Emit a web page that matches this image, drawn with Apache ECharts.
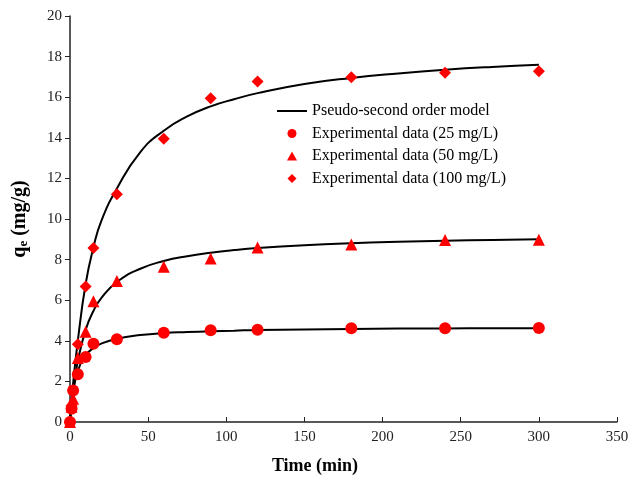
<!DOCTYPE html>
<html>
<head>
<meta charset="utf-8">
<script src="https://cdn.jsdelivr.net/npm/echarts@6/dist/echarts.min.js"></script>
<style>
    html, body { margin: 0; padding: 0; background: #fff; }
    #main { width: 641px; height: 480px; }
</style>
</head>
<body>
<div id="main"></div>
<script>
// experimental sampling times (min)
var times = [0, 1, 2, 5, 10, 15, 30, 60, 90, 120, 180, 240, 300];
var q25 = [0, 0.65, 1.55, 2.35, 3.2, 3.85, 4.08, 4.4, 4.52, 4.55, 4.62, 4.62, 4.63];
var q50 = [0, 0.75, 1.15, 3.15, 4.45, 5.95, 6.95, 7.65, 8.05, 8.6, 8.75, 8.97, 8.98];
var q100 = [0, 0.8, 1.55, 3.83, 6.68, 8.57, 11.22, 13.95, 15.95, 16.77, 16.98, 17.2, 17.28];

// model curves
var modelTimes = [0, 1, 2, 5, 10, 15, 20, 30, 45, 60, 75, 90, 105, 120, 150, 180, 210, 240, 270, 300];
var model25 = [0, 0.88, 1.49, 2.5, 3.28, 3.64, 3.86, 4.1, 4.28, 4.38, 4.43, 4.47, 4.5, 4.53, 4.56, 4.58, 4.6, 4.61, 4.62, 4.62];
var model50 = [0, 0.81, 1.49, 3.0, 4.54, 5.47, 6.1, 6.9, 7.55, 7.93, 8.17, 8.34, 8.47, 8.57, 8.71, 8.81, 8.88, 8.93, 8.97, 9.0];
var model100 = [0, 1.0, 1.9, 4.0, 6.8, 8.6, 9.9, 11.5, 13.3, 14.35, 15.05, 15.55, 15.9, 16.2, 16.65, 16.95, 17.17, 17.35, 17.49, 17.6];

var modelName = 'Pseudo-second order model';
var names = ['Experimental data (25 mg/L)', 'Experimental data (50 mg/L)', 'Experimental data (100 mg/L)'];

function pairs(xs, ys) {
    return xs.map(function (x, i) { return [x, ys[i]]; });
}

function modelSeries(ys) {
    return {
        name: modelName,
        type: 'line',
        data: pairs(modelTimes, ys),
        smooth: 0.5,
        symbol: 'none',
        lineStyle: { color: '#000', width: 2 },
        itemStyle: { color: '#000' },
        z: 2
    };
}

function dataSeries(name, ys, symbol, size) {
    return {
        name: name,
        type: 'scatter',
        data: pairs(times, ys),
        symbol: symbol,
        symbolSize: size,
        itemStyle: { color: '#ff0000', opacity: 1 },
        z: 3
    };
}

var chart = echarts.init(document.getElementById('main'));
var font = '"Liberation Serif", "Times New Roman", serif';
chart.setOption({
    animation: false,
    backgroundColor: '#fff',
    textStyle: { fontFamily: font },
    grid: { left: 70, right: 24, top: 16, bottom: 57 },
    legend: {
        orient: 'vertical',
        left: 277,
        top: 103,
        padding: 0,
        itemWidth: 30,
        itemHeight: 9,
        itemGap: 6.5,
        symbolKeepAspect: true,
        textStyle: { fontFamily: font, fontSize: 16, color: '#000' },
        data: [
            { name: modelName, icon: 'path://M0,0L30,0L30,2L0,2Z', itemStyle: { color: '#000' } },
            { name: names[0], icon: 'circle' },
            { name: names[1], icon: 'path://M5,0L10,9L0,9Z' },
            { name: names[2], icon: 'path://M5,0L10,5L5,10L0,5Z' }
        ]
    },
    xAxis: {
        type: 'value',
        min: 0,
        max: 350,
        interval: 50,
        name: 'Time (min)',
        nameLocation: 'middle',
        nameGap: 35,
        nameTextStyle: { fontFamily: font, fontSize: 18, fontWeight: 'bold', color: '#000', padding: [0, 57, 0, 0] },
        axisLine: { lineStyle: { color: '#222', width: 1.5 } },
        axisTick: { inside: true, length: 5, lineStyle: { color: '#222' } },
        axisLabel: { fontFamily: font, fontSize: 15, color: '#222', margin: 8 },
        splitLine: { show: false }
    },
    yAxis: {
        type: 'value',
        min: 0,
        max: 20,
        interval: 2,
        name: '{q|q}{e|e}{u| (mg/g)}',
        nameLocation: 'middle',
        nameGap: 40,
        nameTextStyle: {
            rich: {
                q: { fontFamily: font, fontSize: 20, fontWeight: 'bold', color: '#000' },
                e: { fontFamily: font, fontSize: 13, fontWeight: 'bold', color: '#000', verticalAlign: 'bottom', padding: [8, 0, 0, 0] },
                u: { fontFamily: font, fontSize: 20, fontWeight: 'bold', color: '#000' }
            }
        },
        axisLine: { show: true, lineStyle: { color: '#222', width: 1.5 } },
        axisTick: { show: true, length: 5, lineStyle: { color: '#222' } },
        axisLabel: { fontFamily: font, fontSize: 15, color: '#222', margin: 8 },
        splitLine: { show: false }
    },
    series: [
        modelSeries(model25),
        modelSeries(model50),
        modelSeries(model100),
        dataSeries(names[0], q25, 'circle', 12),
        dataSeries(names[1], q50, 'triangle', 12),
        dataSeries(names[2], q100, 'diamond', 12)
    ]
});
</script>
</body>
</html>
